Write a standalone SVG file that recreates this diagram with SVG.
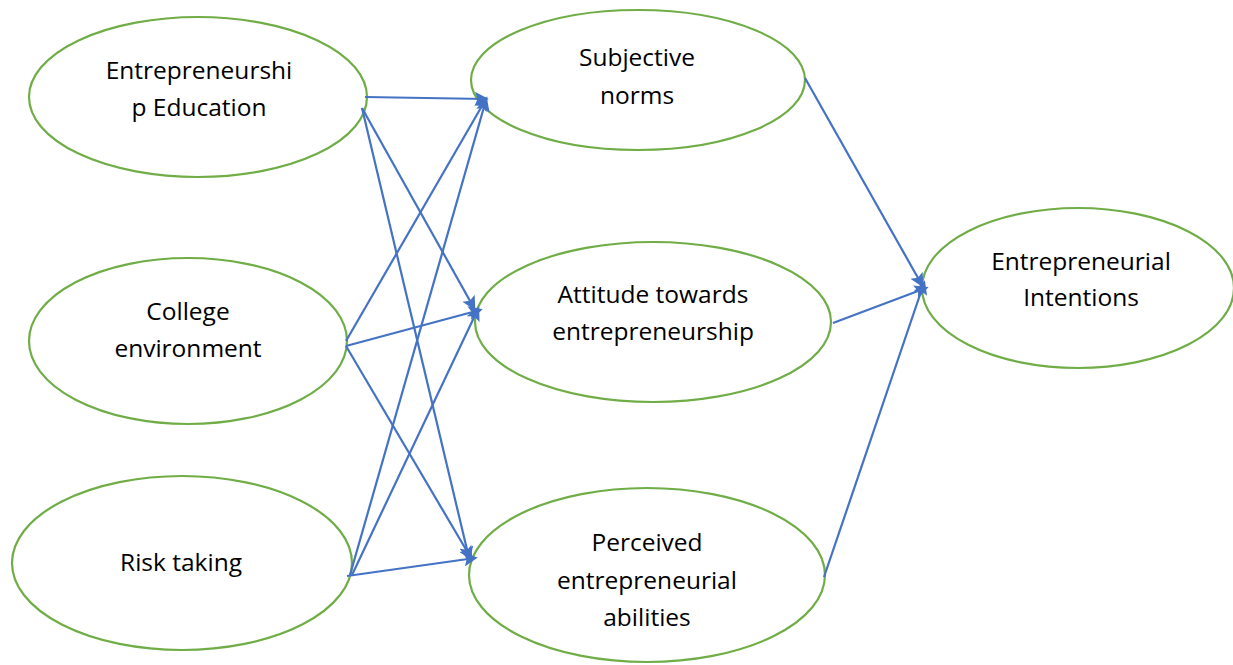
<svg xmlns="http://www.w3.org/2000/svg" width="1233" height="665" viewBox="0 0 1233 665">
  <style>
    .node ellipse { fill: #ffffff; stroke: #70ad47; stroke-width: 2.2; }
    .node text { font-family: "Open Sans", "Liberation Sans", sans-serif; font-size: 24.5px; fill: #000000; text-anchor: middle; }
    .links line { stroke: #4472c4; stroke-width: 2.2; marker-end: url(#arrow); }
  </style>
  <defs>
    <marker id="arrow" viewBox="0 0 10 10" refX="8" refY="5" markerWidth="15" markerHeight="14" markerUnits="userSpaceOnUse" orient="auto">
      <path d="M0,0 L10,5 L0,10 L2,5 z" fill="#4472c4"/>
    </marker>
  </defs>
  <rect width="1233" height="665" fill="#ffffff"/>

  <!-- predictors -->
  <g id="node-education" class="node">
    <ellipse cx="198" cy="97" rx="169" ry="80"/>
    <text x="199" y="79">Entrepreneurshi</text>
    <text x="199" y="116">p Education</text>
  </g>
  <g id="node-college" class="node">
    <ellipse cx="188" cy="341" rx="159" ry="83"/>
    <text x="188" y="320">College</text>
    <text x="188" y="357">environment</text>
  </g>
  <g id="node-risk" class="node">
    <ellipse cx="182" cy="563" rx="170" ry="87"/>
    <text x="181" y="571">Risk taking</text>
  </g>

  <!-- mediators -->
  <g id="node-norms" class="node">
    <ellipse cx="638" cy="80" rx="167" ry="70"/>
    <text x="637" y="66">Subjective</text>
    <text x="637" y="104">norms</text>
  </g>
  <g id="node-attitude" class="node">
    <ellipse cx="653" cy="322" rx="178" ry="80"/>
    <text x="653" y="303">Attitude towards</text>
    <text x="653" y="340">entrepreneurship</text>
  </g>
  <g id="node-abilities" class="node">
    <ellipse cx="647" cy="575" rx="178" ry="87"/>
    <text x="647" y="551">Perceived</text>
    <text x="647" y="589">entrepreneurial</text>
    <text x="647" y="626">abilities</text>
  </g>

  <!-- outcome -->
  <g id="node-intentions" class="node">
    <ellipse cx="1078" cy="288" rx="156" ry="80"/>
    <text x="1081" y="270">Entrepreneurial</text>
    <text x="1081" y="306">Intentions</text>
  </g>

  <g id="connectors" class="links">
    <line x1="365" y1="97" x2="486" y2="99"/>
    <line x1="362" y1="108" x2="474" y2="308"/>
    <line x1="362" y1="108" x2="469" y2="558"/>

    <line x1="346" y1="341" x2="486" y2="99"/>
    <line x1="346" y1="346" x2="480" y2="310"/>
    <line x1="346" y1="346" x2="471" y2="558"/>

    <line x1="350" y1="575" x2="486" y2="100"/>
    <line x1="352" y1="575" x2="478" y2="309"/>
    <line x1="347" y1="576" x2="475" y2="558"/>

    <line x1="805" y1="78" x2="922" y2="285"/>
    <line x1="833" y1="323" x2="926" y2="288"/>
    <line x1="824" y1="577" x2="924" y2="283"/>
  </g>
</svg>
